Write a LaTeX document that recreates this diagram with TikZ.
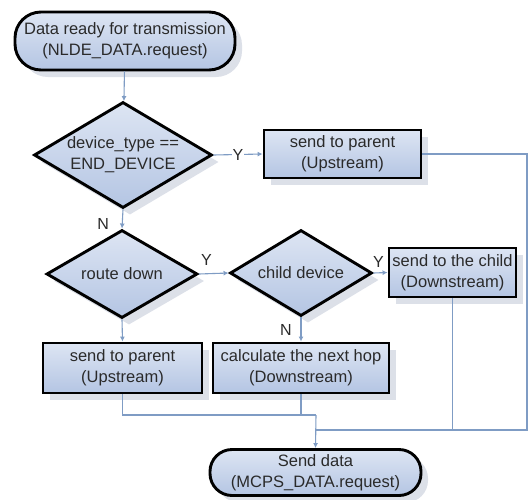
\documentclass[tikz,border=0pt]{standalone}
\usepackage{fontspec}
\setmainfont{Liberation Sans}
\usetikzlibrary{arrows.meta,shapes.geometric,shadows}
\definecolor{conn}{HTML}{7F9CC4}
\definecolor{boxtop}{HTML}{DDE5F3}
\definecolor{boxbot}{HTML}{B4C5E3}
\definecolor{shad}{HTML}{DCE0E8}
\definecolor{txtc}{HTML}{2A2A2A}
\tikzset{
  base/.style={draw=black, line width=2.9pt, top color=boxtop, bottom color=boxbot,
    drop shadow={shadow xshift=7pt, shadow yshift=-7pt, fill=shad, opacity=1},
    inner sep=0pt, font=\fontsize{16.5}{21}\selectfont, text=txtc, align=center},
  proc/.style={base, rectangle},
  term/.style={base, rectangle, rounded corners=26pt},
  dia/.style={base, diamond},
  dtext/.style={font=\fontsize{16.5}{21}\selectfont, text=txtc, align=center, inner sep=0pt},
  conn/.style={draw=conn, line width=1.1pt},
  arr/.style={conn, -{Latex[length=5pt,width=5pt]}},
  lab/.style={font=\fontsize{16}{16}\selectfont, text=txtc, inner sep=0.8pt},
}
\begin{document}
\begin{tikzpicture}[x=1pt,y=-1pt]
\fill[white] (0,0) rectangle (528,499);
\useasboundingbox (0,0) rectangle (528,499);

\node[term, minimum width=220pt, minimum height=58pt] (start) at (125,41)
  {Data ready for transmission\\(NLDE\_DATA.request)};
\node[dia, minimum width=178pt, minimum height=106pt] (d1) at (123,155) {};
\node[dtext] (d1t) at (d1) {device\_type ==\\END\_DEVICE};
\node[proc, minimum width=157pt, minimum height=48pt] (b1) at (342.5,154)
  {send to parent\\(Upstream)};
\node[dia, minimum width=151pt, minimum height=88pt] (d2) at (122,274) {};
\node[dtext] (d2t) at (d2) {route down};
\node[dia, minimum width=142pt, minimum height=86pt] (d3) at (301,273) {};
\node[dtext] (d3t) at (d3) {child device};
\node[proc, minimum width=127pt, minimum height=49pt] (b3) at (452.5,272.5)
  {send to the child\\(Downstream)};
\node[proc, minimum width=159pt, minimum height=50pt] (b2) at (122.5,368)
  {send to parent\\(Upstream)};
\node[proc, minimum width=176pt, minimum height=50pt] (b4) at (301,368)
  {calculate the next hop\\(Downstream)};
\node[term, minimum width=211pt, minimum height=46pt, rounded corners=22pt] (end) at (315.5,472.5)
  {Send data\\(MCPS\_DATA.request)};

\coordinate (r1) at (527,154);
\coordinate (r2) at (527,430);
\coordinate (j1) at (316,415);
\coordinate (j2) at (301,415);
\coordinate (j3) at (316,430);
\coordinate (j4) at (b3.south |- r2);

\draw[arr] (start) -- (d1);
\draw[arr] (d1.east) -- (b1.west) node[lab, midway, fill=white] {Y};
\draw[conn] (b1.east) -- (r1) -- (r2) -- (j3);
\draw[arr] (d1.south) -- (d2.north) node[lab, pos=0.75, left=12pt] {N};
\draw[arr] (d2.east) -- (d3.west) node[lab, pos=0.25, above=7pt] {Y};
\draw[arr] (d3.east) -- (b3.west) node[lab, pos=0.35, above=4pt] {Y};
\draw[arr] (d3.south) -- (b4.north) node[lab, pos=0.5, left=8pt] {N};
\draw[arr] (d2.south) -- (b2.north);
\draw[conn] (b2.south) |- (j1);
\draw[conn] (b4.south) -- (j2) -- (j1);
\draw[conn] (b3.south) -- (j4);
\draw[arr] (j1) -- (end.north);
\end{tikzpicture}
\end{document}
